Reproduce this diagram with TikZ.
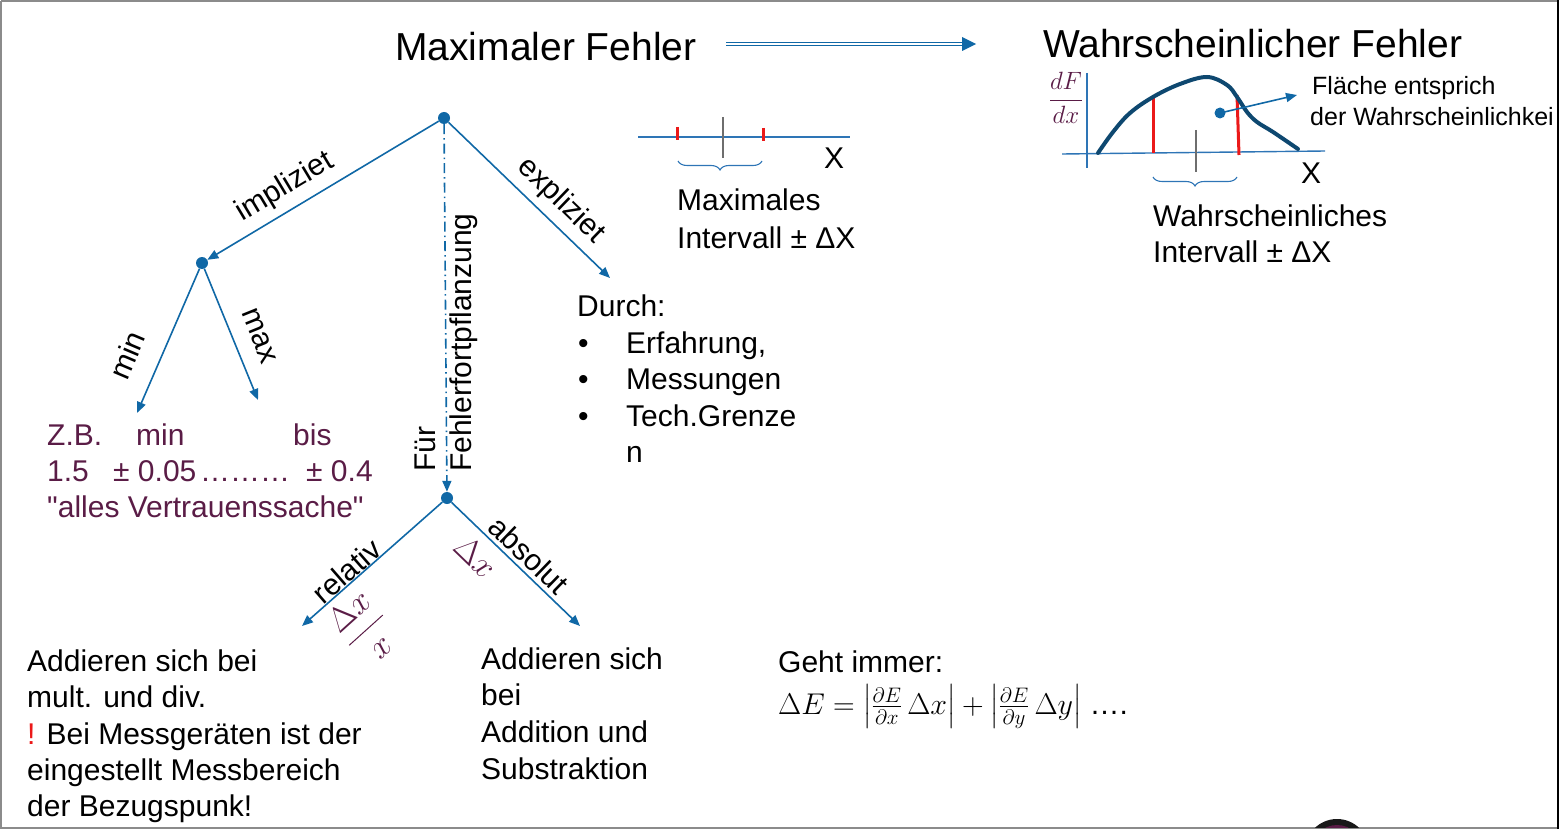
\RequirePackage{fix-cm}
\documentclass[tikz,border=0pt]{standalone}
\usepackage{amsmath}
\usepackage{fontspec}
\setmainfont{Liberation Sans}[Ligatures=TeXOff]
\usetikzlibrary{arrows.meta,decorations.pathreplacing}
\definecolor{lb}{RGB}{16,104,166}
\definecolor{ab}{RGB}{46,117,182}
\definecolor{cb}{RGB}{14,72,112}
\definecolor{pu}{RGB}{90,28,70}
\definecolor{rd}{RGB}{235,25,25}
\definecolor{gt}{RGB}{110,110,110}
\tikzset{
  txt/.style={font=\fontsize{30}{36}\selectfont, inner sep=0pt, anchor=base west},
  sml/.style={font=\fontsize{25}{30}\selectfont, inner sep=0pt, anchor=base west},
  big/.style={font=\fontsize{39}{46}\selectfont, inner sep=0pt, anchor=base west},
  lbl/.style={font=\fontsize{30}{36}\selectfont, inner sep=0pt},
  mth/.style={font=\fontsize{34}{40}\selectfont, inner sep=0pt, text=pu},
  dotn/.style={circle, fill=lb, inner sep=0pt, minimum size=12pt},
  conn/.style={draw=lb, line width=1.6pt, -{Triangle[length=11pt,width=9pt]}},
  brc/.style={draw=ab, line width=1.1pt, decorate, decoration={brace, mirror, amplitude=9pt}},
}
\begin{document}
\begin{tikzpicture}[x=1pt,y=1pt]
\useasboundingbox (0,0) rectangle (1560,-829);
% frame
\draw[gt!80, line width=2pt] (1,-1) -- (1557,-1) (1,-1) -- (1,-828) -- (1557,-828);
\draw[black, line width=2.5pt] (1558,0) -- (1558,-829);
\begin{scope}
\clip (0,0) rectangle (1557,-827);
\fill[black!90] (1337,-851) circle (32);
\fill[pu] (1337,-851) circle (26);
\end{scope}

% titles
\node[big] (t1) at (395,-61) {Maximaler Fehler};
\node[big] (t2) at (1043,-58) {Wahrscheinlicher Fehler};
\coordinate (da1) at (726,-44);
\coordinate (da2) at (962,-44);
\coordinate (da3) at (976,-44);
\draw[lb, line width=1.3pt, double distance=2.2pt] (da1) -- (da2);
\fill[lb] (da3) -- ++(-14,7) -- ++(0,-14) -- cycle;

% tree
\node[dotn] (r) at (444,-118) {};
\node[dotn] (l) at (202,-263) {};
\node[dotn] (b) at (447,-498) {};
\coordinate (dur) at (610,-278);
\coordinate (mn) at (137,-413);
\coordinate (mx) at (258,-400);
\coordinate (rel) at (302,-626);
\coordinate (abs) at (580,-626);
\draw[conn] (r) -- (l);
\draw[conn] (r) -- (dur);
\draw[conn, dash pattern=on 10pt off 4pt on 1.5pt off 4pt] (r) -- (b);
\draw[conn] (l) -- (mn);
\draw[conn] (l) -- (mx);
\draw[conn] (b) -- (rel);
\draw[conn] (b) -- (abs);

\node[lbl, rotate=31] at (285,-187) {impliziet};
\node[lbl, rotate=-44] at (561,-201) {expliziet};
\node[lbl, rotate=67] at (127,-355) {min};
\node[lbl, rotate=-68] at (259,-336) {max};
\node[lbl, rotate=41] at (347,-571) {relativ};
\node[lbl, rotate=-44] at (529,-555) {absolut};
\node[mth, rotate=-44] at (476,-557) {$\Delta x$};
\node[mth, rotate=42] at (364,-628) {$\dfrac{\Delta x}{x}$};
\node[lbl, rotate=90, anchor=west, align=left] at (446,-472) {Für\\Fehlerfortpflanzung};

% purple example
\node[txt, text=pu] at (47,-445) {Z.B.};
\node[txt, text=pu] at (136,-445) {min};
\node[txt, text=pu] at (293,-445) {bis};
\node[txt, text=pu] at (47,-481) {1.5};
\node[txt, text=pu] at (113,-481) {± 0.05};
\node[txt, text=pu] at (200,-481) {………};
\node[txt, text=pu] at (306,-481) {± 0.4};
\node[txt, text=pu] at (47,-517) {"alles Vertrauenssache"};

% Durch
\node[txt] at (577,-316) {Durch:};
\node[txt] at (578,-353) {•};
\node[txt] at (578,-389) {•};
\node[txt] at (578,-426) {•};
\node[txt] at (626,-353) {Erfahrung,};
\node[txt] at (626,-389) {Messungen};
\node[txt] at (626,-426) {Tech.Grenze};
\node[txt] at (626,-462) {n};

% bottom left
\node[txt] at (27,-671) {Addieren sich bei};
\node[txt] at (27,-707) {mult. und div.};
\node[txt] at (27,-744) {\textcolor{rd}{!} Bei Messgeräten ist der};
\node[txt] at (27,-780) {eingestellt Messbereich};
\node[txt] at (27,-816) {der Bezugspunk!};

% bottom middle
\node[txt] at (481,-669) {Addieren sich};
\node[txt] at (481,-705) {bei};
\node[txt] at (481,-742) {Addition und};
\node[txt] at (481,-779) {Substraktion};

% formula
\node[txt] at (778,-672) {Geht immer:};
\node[txt] (f) at (778,-714) {$\Delta E=\left|\frac{\partial E}{\partial x}\,\Delta x\right|+\left|\frac{\partial E}{\partial y}\,\Delta y\right|$ ….};

% maximal interval
\draw[ab, line width=1.6pt] (638,-137) -- (850,-137);
\draw[rd, line width=3pt] (677,-127) -- (677,-140);
\draw[rd, line width=3pt] (763,-128) -- (763,-141);
\draw[gt, line width=2.5pt] (723,-117) -- (723,-158);
\draw[brc] (678,-161) -- (762,-161);
\node[txt] at (824,-169) {X};
\node[txt] at (677,-211) {Maximales};
\node[txt] at (677,-248) {Intervall ± ΔX};

% probable interval
\draw[ab, line width=1.4pt] (1062,-154) -- (1325,-151);
\draw[ab, line width=1.4pt] (1087,-73) -- (1087,-168);
\node[text=pu, inner sep=0pt, font=\fontsize{25}{30}\selectfont] at (1066,-98) {$\displaystyle\frac{dF}{dx}$};
\draw[rd, line width=3pt] (1153,-95) -- (1153,-153);
\draw[rd, line width=3pt] (1237,-95) -- (1239,-155);
\draw[cb, line width=4pt, line cap=round] plot[smooth, tension=0.6] coordinates {(1098,-153) (1113,-132) (1130,-113) (1153,-97) (1180,-84) (1207,-77) (1227,-85) (1237,-97) (1247,-112) (1257,-122) (1273,-132) (1298,-149)};
\draw[gt, line width=2.5pt] (1196,-130) -- (1196,-172);
\draw[brc] (1153,-177) -- (1237,-177);
\node[txt] at (1301,-184) {X};
\node[txt] at (1153,-226) {Wahrscheinliches};
\node[txt] at (1153,-262) {Intervall ± ΔX};
\node[circle, fill=lb, inner sep=0pt, minimum size=11pt] (pd) at (1220,-113) {};
\coordinate (pa) at (1297,-95);
\draw[draw=lb, line width=1.6pt, -{Triangle[length=11pt,width=9pt]}] (pd.center) -- (pa);
\node[sml] at (1312,-95) {Fläche entsprich};
\node[sml] at (1310,-126) {der Wahrscheinlichkei};
\end{tikzpicture}
\end{document}
